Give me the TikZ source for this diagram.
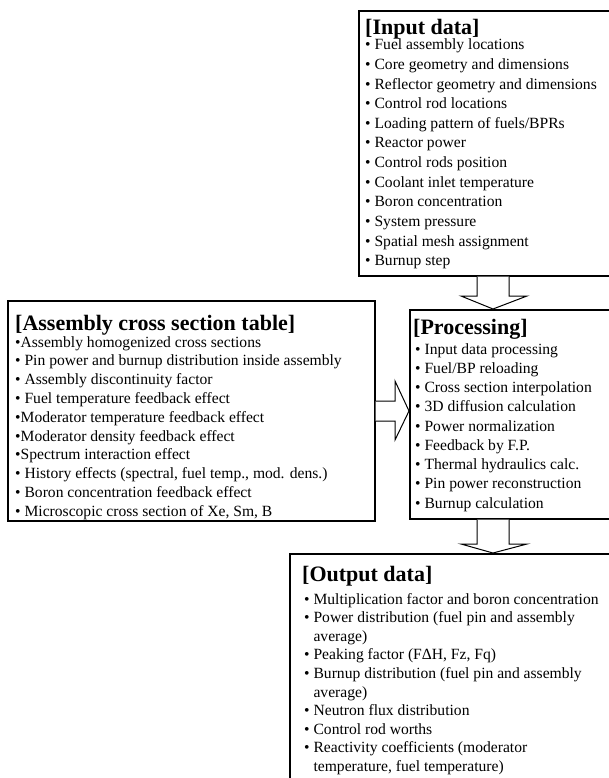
\documentclass[tikz,border=0pt]{standalone}
\usepackage{fontspec}
\setmainfont{Liberation Serif}
\begin{document}
\begin{tikzpicture}[x=1pt,y=-1pt,
  box/.style={draw=black,line width=1.6pt,fill=white,inner sep=0pt,anchor=north west},
  ttl/.style={font=\fontsize{22}{26}\selectfont\bfseries,inner sep=0pt,anchor=base west},
  itm/.style={font=\fontsize{15.6}{18}\selectfont,inner sep=0pt,anchor=base west},
  blk/.style={draw=black,line width=1pt,fill=white,line join=miter}]
\useasboundingbox (0,0) rectangle (608,778);
% boxes
\node[box,minimum width=256pt,minimum height=265pt] (input) at (358,10) {};
\node[box,minimum width=367pt,minimum height=220pt] (asm) at (7,300) {};
\node[box,minimum width=205pt,minimum height=209pt] (proc) at (409,309) {};
\node[box,minimum width=330pt,minimum height=240pt] (out) at (289,553) {};
% input data
\node[ttl] (inT) at (365,34.5) {[Input data]};
\foreach \t [count=\i] in {Fuel assembly locations,Core geometry and dimensions,Reflector geometry and dimensions,Control rod locations,Loading pattern of fuels/BPRs,Reactor power,Control rods position,Coolant inlet temperature,Boron concentration,System pressure,Spatial mesh assignment,Burnup step}
  \node[itm] (in\i) at (365,{50+(\i-1)*19.6}) {• \t};
% assembly
\node[ttl] (asT) at (15,330.5) {[Assembly cross section table]};
\foreach \t [count=\i] in {•Assembly homogenized cross sections,• Pin power and burnup distribution inside assembly,• Assembly discontinuity factor,• Fuel temperature feedback effect,•Moderator temperature feedback effect,•Moderator density feedback effect,•Spectrum interaction effect,{• History effects (spectral, fuel temp., mod. dens.)},• Boron concentration feedback effect,{• Microscopic cross section of Xe, Sm, B}}
  \node[itm] (as\i) at (15,{347+(\i-1)*18.8}) {\t};
% processing
\node[ttl] (prT) at (413,334.5) {[Processing]};
\foreach \t [count=\i] in {Input data processing,Fuel/BP reloading,Cross section interpolation,3D diffusion calculation,Power normalization,Feedback by F.P.,Thermal hydraulics calc.,Pin power reconstruction,Burnup calculation}
  \node[itm] (pr\i) at (415,{354+(\i-1)*19.25}) {• \t};
% output
\node[ttl] (ouT) at (302,581.5) {[Output data]};
\foreach \t [count=\i] in {• Multiplication factor and boron concentration,• Power distribution (fuel pin and assembly,\phantom{• }average),{• Peaking factor (FΔH, Fz, Fq)},• Burnup distribution (fuel pin and assembly,\phantom{• }average),• Neutron flux distribution,• Control rod worths,• Reactivity coefficients (moderator,{\phantom{• }temperature, fuel temperature)}}
  \node[itm] (ou\i) at (304,{604+(\i-1)*18.6}) {\t};
% block arrows
\draw[blk] (input.south -| 477,0) -- (477,296) -- (461,296) -- (proc.north -| 493,0) -- (527,296) -- (509,296) -- (input.south -| 509,0);
\draw[blk] (asm.east |- 0,401) -- (395,401) -- (395,381) -- (proc.west |- 0,411) -- (395,440) -- (395,421) -- (asm.east |- 0,421);
\draw[blk] (proc.south -| 477,0) -- (477,544) -- (461,544) -- (out.north -| 493,0) -- (527,544) -- (509,544) -- (proc.south -| 509,0);
\end{tikzpicture}
\end{document}
